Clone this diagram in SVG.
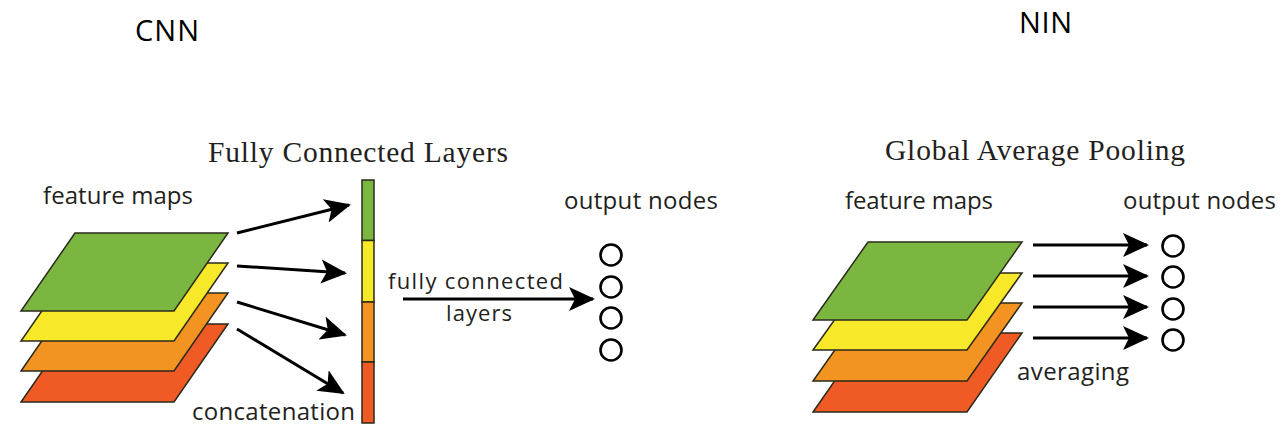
<svg xmlns="http://www.w3.org/2000/svg" width="1288" height="437" viewBox="0 0 1288 437">
<style>
.sans{font-family:"Open Sans","Liberation Sans",sans-serif;fill:#231f20}
.serif{font-family:"Liberation Serif","DejaVu Serif",serif;fill:#231f20}
.title{font-family:"Open Sans","Liberation Sans",sans-serif;fill:#000}
.lay{stroke:#2a2a1a;stroke-width:1.5;stroke-linejoin:miter}
.g{fill:#7ab640}.y{fill:#f7e82a}.o{fill:#f39321}.r{fill:#ef5a25}
.arr{stroke:#000;stroke-width:3;fill:none;marker-end:url(#ah)}
.node{fill:#fff;stroke:#000;stroke-width:2.6}
</style>
<defs>
<marker id="ah" markerWidth="26" markerHeight="26" viewBox="0 0 26 26" refX="24" refY="13" orient="auto" markerUnits="userSpaceOnUse">
<path d="M0,1 L26,13 L0,25 L6,13 Z" fill="#000"/>
</marker>
</defs>
<rect width="1288" height="437" fill="#fff"/>

<g id="labels">
<text class="title" x="135" y="41" font-size="29" textLength="64">CNN</text>
<text class="title" x="1019" y="33" font-size="29" textLength="53">NIN</text>
<text class="serif" x="208" y="162" font-size="29.5" textLength="300">Fully Connected Layers</text>
<text class="serif" x="885" y="160" font-size="29.5" textLength="300">Global Average Pooling</text>
<text class="sans" x="43" y="204" font-size="24" textLength="150">feature maps</text>
<text class="sans" x="845" y="209" font-size="24" textLength="148">feature maps</text>
<text class="sans" x="564" y="209" font-size="24" textLength="154">output nodes</text>
<text class="sans" x="1123" y="209" font-size="24" textLength="153">output nodes</text>
<text class="sans" x="192" y="420" font-size="24" textLength="163">concatenation</text>
<text class="sans" x="388" y="289" font-size="22" textLength="175">fully connected</text>
<text class="sans" x="446" y="321" font-size="22" textLength="66">layers</text>
<text class="sans" x="1017" y="380" font-size="24" textLength="112">averaging</text>
</g>

<g id="cnn-feature-maps">
<polygon class="lay r" points="75,324 228,324 174,402 21,402"/>
<polygon class="lay o" points="75,293 228,293 174,371 21,371"/>
<polygon class="lay y" points="75,263 228,263 174,341 21,341"/>
<polygon class="lay g" points="75,233 228,233 174,311 21,311"/>
</g>

<g id="concat-vector">
<rect class="lay g" x="362" y="180" width="12" height="60.5"/>
<rect class="lay y" x="362" y="240.5" width="12" height="61.5"/>
<rect class="lay o" x="362" y="302" width="12" height="60"/>
<rect class="lay r" x="362" y="362" width="12" height="61"/>
</g>

<g id="cnn-output-nodes">
<circle class="node" cx="611" cy="255" r="10.5"/>
<circle class="node" cx="611" cy="287" r="10.5"/>
<circle class="node" cx="611" cy="318" r="10.5"/>
<circle class="node" cx="611" cy="350" r="10.5"/>
</g>

<g id="nin-feature-maps">
<polygon class="lay r" points="868,333 1022,333 967,412 813,412"/>
<polygon class="lay o" points="868,303 1022,303 967,381 813,381"/>
<polygon class="lay y" points="868,273 1022,273 967,350 813,350"/>
<polygon class="lay g" points="868,242 1022,242 967,320 813,320"/>
</g>

<g id="nin-output-nodes">
<circle class="node" cx="1173" cy="246" r="10.5"/>
<circle class="node" cx="1173" cy="277" r="10.5"/>
<circle class="node" cx="1173" cy="309" r="10.5"/>
<circle class="node" cx="1173" cy="340" r="10.5"/>
</g>

<g id="connectors">
<line class="arr" x1="237" y1="233" x2="349" y2="205"/>
<line class="arr" x1="237" y1="266" x2="345" y2="273"/>
<line class="arr" x1="237" y1="302" x2="345" y2="335"/>
<line class="arr" x1="237" y1="329" x2="343" y2="393"/>
<line class="arr" x1="403" y1="299" x2="593" y2="299"/>
<line class="arr" x1="1033" y1="245" x2="1147" y2="245"/>
<line class="arr" x1="1033" y1="276" x2="1147" y2="276"/>
<line class="arr" x1="1033" y1="307" x2="1147" y2="307"/>
<line class="arr" x1="1033" y1="338" x2="1147" y2="338"/>
</g>
</svg>
